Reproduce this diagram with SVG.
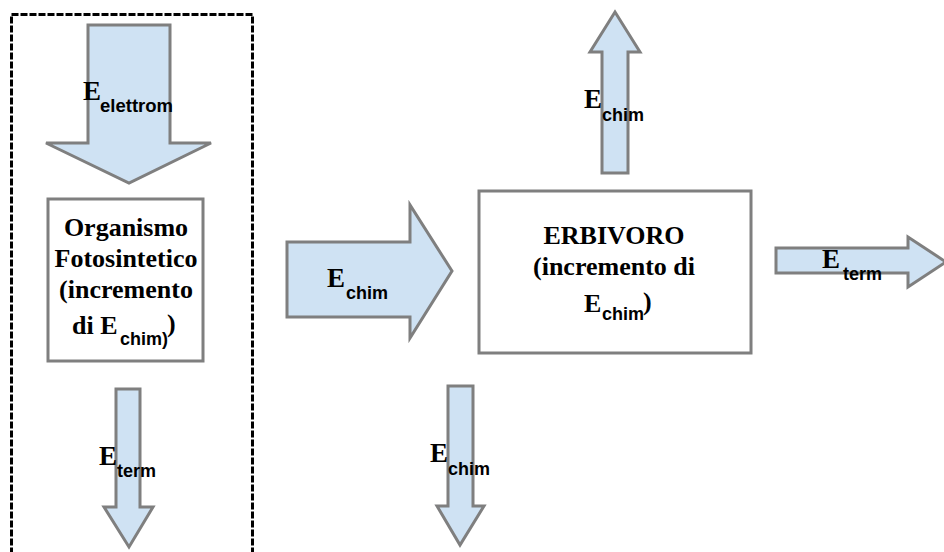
<svg xmlns="http://www.w3.org/2000/svg" width="944" height="552" viewBox="0 0 944 552">
  <style>
    .arrow { fill: #cfe2f3; stroke: #7f7f7f; stroke-width: 3; stroke-linejoin: miter; }
    .box { fill: #ffffff; stroke: #7f7f7f; stroke-width: 3; }
    .frame { fill: none; stroke: #000000; stroke-width: 3; stroke-dasharray: 7 2; }
    .big { font-family: "Liberation Serif", "Times New Roman", serif; font-weight: bold; font-size: 26px; fill: #000; }
    .e { font-family: "Liberation Serif", "Times New Roman", serif; font-weight: bold; font-size: 27px; fill: #000; }
    .sub { font-family: "Liberation Sans", Arial, sans-serif; font-weight: bold; font-size: 18px; fill: #000; }
  </style>

  <!-- dashed frame around the photosynthetic organism -->
  <g id="frame">
    <rect class="frame" x="11.5" y="14.5" width="241" height="560"/>
  </g>

  <!-- energy arrows -->
  <g id="connectors">
    <g id="arrow-elettrom">
      <polygon class="arrow" points="88,25 170,25 170,143 211,143 129,183 46,143 88,143"/>
      <text class="e" x="83" y="100">E</text>
      <text class="sub" x="100" y="112" textLength="73" lengthAdjust="spacingAndGlyphs">elettrom</text>
    </g>
    <g id="arrow-term-left">
      <polygon class="arrow" points="116,389 140,389 140,507 153,507 129,547 104,507 116,507"/>
      <text class="e" x="99" y="465">E</text>
      <text class="sub" x="117" y="477">term</text>
    </g>
    <g id="arrow-chim-middle">
      <polygon class="arrow" points="287,242 410,242 410,205 452,271 410,338 410,317 287,317"/>
      <text class="e" x="327" y="287">E</text>
      <text class="sub" x="346" y="299">chim</text>
    </g>
    <g id="arrow-chim-down">
      <polygon class="arrow" points="448,386 473,386 473,506 484,506 460,545 437,506 448,506"/>
      <text class="e" x="430" y="462">E</text>
      <text class="sub" x="448" y="475">chim</text>
    </g>
    <g id="arrow-chim-up">
      <polygon class="arrow" points="615,12 640,52 628,52 628,173 602,173 602,52 590,52"/>
      <text class="e" x="584" y="108">E</text>
      <text class="sub" x="602" y="121">chim</text>
    </g>
    <g id="arrow-term-right">
      <polygon class="arrow" points="776,248 908,248 908,237 946,262 908,287 908,273 776,273"/>
      <text class="e" x="822" y="268">E</text>
      <text class="sub" x="843" y="280">term</text>
    </g>
  </g>

  <!-- producer -->
  <g id="node-fotosintetico">
    <rect class="box" x="48" y="199" width="155" height="162"/>
    <text class="big" x="126" y="236" text-anchor="middle">Organismo</text>
    <text class="big" x="126" y="267" text-anchor="middle">Fotosintetico</text>
    <text class="big" x="126" y="298" text-anchor="middle">(incremento</text>
    <text class="big" x="72" y="334">di E</text>
    <text class="sub" x="120" y="345">chim)</text>
    <text class="big" x="167" y="332">)</text>
  </g>

  <!-- consumer -->
  <g id="node-erbivoro">
    <rect class="box" x="479" y="191" width="272" height="162"/>
    <text class="big" x="614" y="244" text-anchor="middle">ERBIVORO</text>
    <text class="big" x="614" y="275" text-anchor="middle">(incremento di</text>
    <text class="big" x="584" y="312">E</text>
    <text class="sub" x="602" y="320">chim</text>
    <text class="big" x="643" y="310">)</text>
  </g>
</svg>
